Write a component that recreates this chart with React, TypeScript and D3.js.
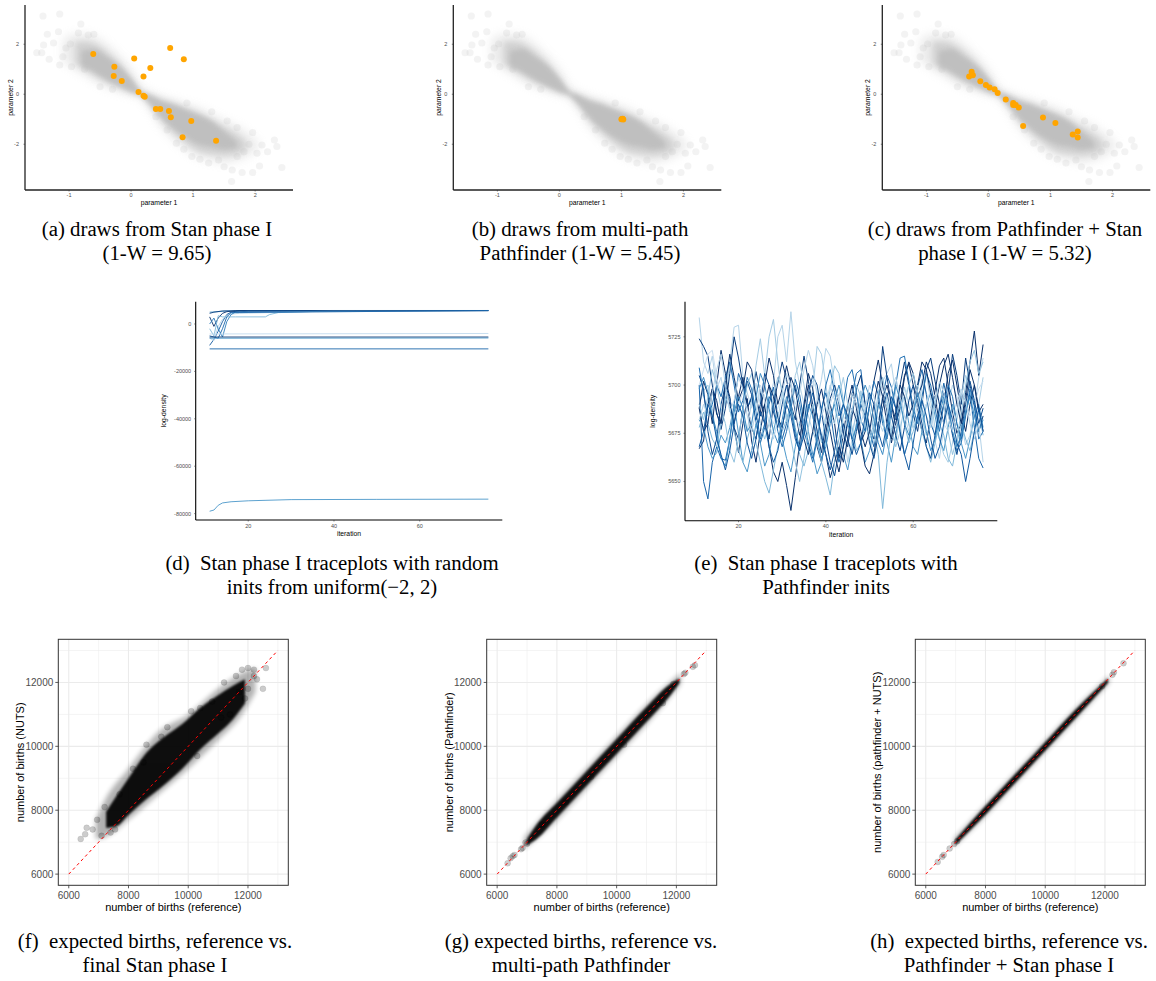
import React from "react";
import * as d3 from "d3";

// ---------------- DATA ----------------
// reference posterior cloud (panels a-c): dense core, medium band and light halo, plus sparse outliers
const cloudCoreX = [-0.8, -0.6, -0.4, -0.2, 0.0, 0.15, 0.3, 0.5, 0.7, 0.9, 1.1, 1.3, 1.5, 1.7];
const cloudCoreLo = [1.15, 0.9, 0.6, 0.35, 0.12, -0.02, -0.35, -0.95, -1.4, -1.75, -2.0, -2.1, -2.2, -2.15];
const cloudCoreHi = [1.7, 1.8, 1.5, 1.15, 0.6, 0.12, -0.05, -0.3, -0.45, -0.65, -0.85, -1.1, -1.5, -1.9];
const cloudMidX = [-0.9, -0.7, -0.5, -0.3, -0.1, 0.05, 0.15, 0.3, 0.5, 0.7, 0.9, 1.1, 1.3, 1.5, 1.7, 1.85];
const cloudMidLo = [1.2, 0.9, 0.6, 0.35, 0.15, 0.0, -0.05, -0.45, -1.1, -1.6, -2.0, -2.3, -2.4, -2.45, -2.4, -2.2];
const cloudMidHi = [2.1, 2.1, 1.9, 1.5, 1.0, 0.5, 0.15, 0.0, -0.2, -0.35, -0.55, -0.75, -1.0, -1.3, -1.6, -1.9];
const cloudHaloX = [-1.1, -0.9, -0.7, -0.5, -0.3, -0.1, 0.05, 0.15, 0.3, 0.5, 0.7, 0.9, 1.1, 1.3, 1.5, 1.7, 1.9, 2.05];
const cloudHaloLo = [1.3, 1.0, 0.7, 0.4, 0.2, 0.05, -0.05, -0.15, -0.6, -1.35, -1.85, -2.25, -2.55, -2.65, -2.75, -2.65, -2.45, -2.2];
const cloudHaloHi = [2.2, 2.4, 2.4, 2.2, 1.8, 1.3, 0.8, 0.35, 0.1, -0.1, -0.25, -0.4, -0.55, -0.8, -1.05, -1.25, -1.6, -1.9];
const cloudOutX = [-1.42, -1.15, -0.81, -1.35, -1.17, -1.41, -1.52, -1.44, -1.32, -1.15, -0.98, -0.69, -0.96, -1.25, -1.05, -0.85, -0.6, -1.1, -0.75, -0.5, -0.3,
  2.35, 2.31, 2.11, 2.43, 2.07, 1.96, 1.79, 1.62, 1.63, 1.96, 1.55, 1.71, 2.03, 1.82, 1.41, 1.11, 0.98, 0.73, 0.58, 1.71, 1.9, 1.25, 0.85, 1.5, 2.2, 0.4, 0.9, 1.3];
const cloudOutY = [3.13, 3.21, 2.81, 2.40, 2.50, 1.97, 1.66, 1.66, 1.40, 1.17, 2.01, 2.37, 1.10, 2.05, 1.85, 2.45, 2.4, 1.5, 1.0, 0.3, 0.2,
  -2.09, -1.83, -2.03, -2.93, -2.87, -3.13, -3.13, -3.49, -3.03, -1.53, -1.07, -1.33, -2.36, -2.30, -2.63, -2.60, -2.49, -1.96, -1.43, -2.49, -2.0, -2.75, -2.2, -2.9, -2.3, -0.9, -0.35, -0.7];

const drawsAX = [-0.61, -0.27, -0.28, -0.15, 0.05, 0.20, 0.31, 0.63, 0.85, 0.12, 0.20, 0.22, 0.40, 0.47, 0.61, 0.64, 0.97, 0.83, 1.37];
const drawsAY = [1.61, 1.10, 0.73, 0.53, 1.43, 0.71, 1.05, 1.85, 1.40, 0.09, -0.06, -0.10, -0.59, -0.59, -0.67, -0.92, -1.07, -1.72, -1.86];
const drawsBX = [1.0, 1.02, 1.03, 1.01];
const drawsBY = [-1.0, -0.98, -1.01, -0.99];
const drawsCX = [-0.27, -0.31, -0.25, -0.13, -0.04, 0.02, 0.10, 0.15, 0.28, 0.40, 0.40, 0.44, 0.49, 0.56, 0.88, 1.08, 1.36, 1.44, 1.44];
const drawsCY = [0.90, 0.71, 0.76, 0.52, 0.37, 0.27, 0.20, 0.05, -0.21, -0.35, -0.43, -0.43, -0.53, -1.27, -0.93, -1.15, -1.61, -1.49, -1.73];

const paramXTicks = [-1, 0, 1, 2];
const paramYTicks = [-2, 0, 2];

// traceplots with random inits (panel d): [iteration, log-density] keyframes
const traceD: [number, number][][] = [
  [[11, 5000], [13, 5200], [15, 5500], [20, 5600], [40, 5700], [76, 5700]],
  [[11, -9000], [12, -6500], [13, -3000], [14, 1000], [15, 4000], [16, 5000], [18, 5600], [76, 5650]],
  [[11, 3000], [12, -1000], [13, 2500], [14, 4500], [15, 5200], [17, 5600], [76, 5680]],
  [[11, -6000], [12, -7000], [13, -1000], [14, 2000], [15, 3500], [16, 4200], [18, 4500], [20, 4600], [30, 5000], [40, 5500], [76, 5700]],
  [[11, 0], [12, 2500], [13, -2000], [14, -5500], [15, 1000], [16, 4000], [17, 5000], [20, 5400], [76, 5650]],
  [[11, -2000], [12, -5000], [13, 3500], [14, 3000], [17, 3000], [24, 3000], [25, 4000], [27, 4800], [35, 5300], [45, 5600], [76, 5700]],
  [[11, 4500], [12, 5000], [14, 5500], [76, 5650]],
  [[11, -5000], [13, -6000], [14, -2000], [15, 3000], [16, 4800], [76, 5700]],
  [[11, -5500], [76, -5500]],
  [[11, -6000], [76, -5900]],
  [[11, -4200], [76, -4000]],
  [[11, -10500], [76, -10500]],
  [[11, -79000], [12, -78500], [13, -76500], [14, -75500], [16, -75000], [20, -74600], [30, -74100], [50, -74000], [76, -73900]],
];
const traceDShades = [0.55, 0.85, 1.0, 0.3, 0.7, 0.45, 0.95, 0.8, 1.0, 0.6, 0.25, 0.8, 0.6];
const traceDYTicks = [0, -20000, -40000, -60000, -80000];

// traceplots with Pathfinder inits (panel e): log-density at iterations 11..76
const traceStartIter = 11;
const traceE01 = [5735, 5712, 5706, 5715, 5698, 5704, 5690, 5712, 5730, 5731, 5705, 5696, 5688, 5701, 5690, 5686, 5692, 5701, 5725, 5731, 5712, 5738, 5712, 5700, 5690, 5684, 5676, 5693, 5703, 5719, 5715, 5700, 5694, 5680, 5660, 5672, 5688, 5697, 5684, 5678, 5670, 5690, 5702, 5706, 5711, 5695, 5680, 5664, 5672, 5680, 5690, 5703, 5696, 5688, 5671, 5662, 5678, 5690, 5700, 5694, 5680, 5669, 5674, 5688, 5704, 5714];
const traceE02 = [5667, 5671, 5690, 5698, 5685, 5680, 5702, 5694, 5678, 5665, 5680, 5693, 5671, 5660, 5676, 5690, 5668, 5655, 5650, 5660, 5648, 5635, 5652, 5670, 5688, 5700, 5685, 5668, 5660, 5675, 5690, 5680, 5662, 5674, 5690, 5700, 5688, 5670, 5676, 5689, 5702, 5713, 5700, 5686, 5670, 5680, 5692, 5705, 5711, 5700, 5688, 5676, 5670, 5683, 5697, 5710, 5714, 5700, 5686, 5675, 5680, 5696, 5712, 5728, 5705, 5721];
const traceE03 = [5700, 5650, 5641, 5660, 5668, 5662, 5661, 5672, 5690, 5706, 5700, 5688, 5694, 5681, 5670, 5678, 5690, 5699, 5684, 5672, 5680, 5692, 5703, 5695, 5681, 5670, 5662, 5673, 5688, 5696, 5686, 5671, 5660, 5668, 5680, 5695, 5706, 5708, 5690, 5676, 5668, 5678, 5694, 5705, 5699, 5688, 5675, 5664, 5672, 5686, 5699, 5708, 5695, 5680, 5674, 5688, 5701, 5690, 5675, 5666, 5670, 5684, 5696, 5678, 5662, 5657];
const traceE04 = [5724, 5720, 5715, 5700, 5686, 5677, 5688, 5706, 5725, 5714, 5700, 5688, 5693, 5707, 5696, 5680, 5672, 5690, 5701, 5712, 5703, 5690, 5682, 5700, 5715, 5702, 5690, 5676, 5665, 5680, 5693, 5700, 5690, 5675, 5668, 5684, 5698, 5705, 5690, 5678, 5672, 5690, 5720, 5704, 5690, 5682, 5700, 5712, 5700, 5685, 5676, 5690, 5708, 5714, 5702, 5690, 5680, 5696, 5716, 5705, 5690, 5714, 5700, 5688, 5676, 5684];
const traceE05 = [5690, 5697, 5700, 5688, 5672, 5680, 5696, 5712, 5702, 5690, 5684, 5676, 5692, 5710, 5724, 5705, 5725, 5734, 5712, 5694, 5681, 5690, 5705, 5712, 5700, 5686, 5698, 5720, 5716, 5700, 5685, 5680, 5694, 5704, 5690, 5676, 5684, 5697, 5688, 5672, 5664, 5680, 5695, 5688, 5674, 5670, 5685, 5699, 5690, 5678, 5684, 5700, 5706, 5692, 5678, 5672, 5664, 5660, 5670, 5682, 5694, 5705, 5698, 5686, 5690, 5704];
const traceE06 = [5682, 5678, 5668, 5662, 5665, 5674, 5670, 5678, 5690, 5675, 5660, 5655, 5666, 5680, 5670, 5658, 5664, 5676, 5686, 5672, 5662, 5655, 5668, 5680, 5690, 5676, 5664, 5654, 5660, 5672, 5684, 5690, 5678, 5664, 5656, 5668, 5680, 5672, 5660, 5666, 5678, 5690, 5684, 5670, 5660, 5674, 5688, 5694, 5680, 5668, 5664, 5676, 5690, 5696, 5684, 5672, 5666, 5678, 5690, 5680, 5670, 5662, 5672, 5684, 5690, 5678];
const traceE07 = [5688, 5702, 5695, 5680, 5700, 5718, 5706, 5690, 5680, 5694, 5704, 5690, 5678, 5672, 5686, 5700, 5714, 5705, 5690, 5698, 5710, 5700, 5686, 5674, 5690, 5706, 5698, 5684, 5672, 5664, 5652, 5660, 5668, 5660, 5672, 5688, 5682, 5670, 5658, 5654, 5664, 5680, 5693, 5700, 5690, 5678, 5688, 5704, 5712, 5706, 5694, 5700, 5712, 5706, 5694, 5680, 5690, 5706, 5713, 5700, 5686, 5676, 5690, 5700, 5688, 5676];
const traceE08 = [5700, 5708, 5716, 5718, 5704, 5694, 5700, 5692, 5684, 5690, 5696, 5688, 5680, 5690, 5700, 5694, 5686, 5680, 5688, 5694, 5700, 5702, 5688, 5676, 5684, 5696, 5702, 5697, 5686, 5680, 5690, 5697, 5692, 5684, 5680, 5688, 5694, 5688, 5681, 5676, 5684, 5692, 5698, 5690, 5684, 5678, 5686, 5694, 5700, 5696, 5688, 5684, 5690, 5698, 5694, 5686, 5680, 5676, 5684, 5692, 5698, 5690, 5684, 5690, 5698, 5702];
const traceE09 = [5678, 5686, 5680, 5672, 5668, 5680, 5694, 5688, 5676, 5666, 5660, 5672, 5680, 5670, 5660, 5650, 5644, 5656, 5668, 5676, 5682, 5690, 5678, 5664, 5658, 5666, 5676, 5670, 5660, 5652, 5643, 5660, 5672, 5684, 5690, 5678, 5666, 5670, 5680, 5688, 5676, 5664, 5636, 5660, 5676, 5684, 5690, 5680, 5670, 5676, 5684, 5676, 5668, 5660, 5670, 5680, 5674, 5662, 5658, 5670, 5680, 5672, 5666, 5676, 5686, 5674];
const traceE10 = [5709, 5695, 5684, 5690, 5700, 5694, 5704, 5712, 5700, 5686, 5692, 5704, 5698, 5686, 5672, 5680, 5694, 5690, 5676, 5668, 5676, 5688, 5700, 5690, 5676, 5668, 5660, 5672, 5686, 5700, 5708, 5696, 5684, 5690, 5704, 5708, 5696, 5682, 5676, 5690, 5702, 5695, 5680, 5672, 5686, 5700, 5714, 5715, 5702, 5688, 5680, 5694, 5706, 5700, 5688, 5676, 5690, 5700, 5694, 5680, 5672, 5686, 5698, 5690, 5672, 5676];
const traceE11 = [5705, 5698, 5676, 5664, 5672, 5690, 5700, 5693, 5678, 5672, 5688, 5702, 5695, 5682, 5690, 5706, 5700, 5686, 5678, 5690, 5700, 5688, 5674, 5666, 5680, 5696, 5705, 5700, 5686, 5672, 5660, 5653, 5666, 5680, 5672, 5664, 5676, 5690, 5684, 5670, 5662, 5674, 5688, 5696, 5684, 5674, 5666, 5678, 5692, 5700, 5692, 5680, 5668, 5662, 5674, 5688, 5696, 5686, 5674, 5664, 5676, 5690, 5702, 5692, 5680, 5688];
const traceE12 = [5690, 5682, 5694, 5708, 5700, 5688, 5680, 5666, 5660, 5672, 5688, 5700, 5706, 5694, 5680, 5672, 5680, 5694, 5704, 5698, 5684, 5672, 5660, 5650, 5662, 5678, 5690, 5682, 5670, 5684, 5698, 5710, 5706, 5692, 5680, 5686, 5700, 5694, 5680, 5672, 5680, 5696, 5704, 5692, 5678, 5668, 5676, 5690, 5700, 5706, 5696, 5684, 5674, 5680, 5692, 5700, 5690, 5676, 5664, 5672, 5686, 5700, 5712, 5718, 5706, 5712];
const traceE13 = [5688, 5676, 5680, 5698, 5692, 5680, 5700, 5716, 5704, 5692, 5698, 5712, 5708, 5694, 5684, 5690, 5700, 5694, 5683, 5678, 5690, 5704, 5698, 5684, 5672, 5664, 5676, 5690, 5698, 5686, 5676, 5664, 5655, 5668, 5682, 5696, 5690, 5676, 5668, 5676, 5690, 5702, 5694, 5680, 5672, 5686, 5700, 5694, 5684, 5690, 5700, 5712, 5708, 5696, 5688, 5700, 5710, 5716, 5704, 5690, 5680, 5692, 5708, 5700, 5686, 5690];
const traceE14 = [5698, 5704, 5696, 5684, 5676, 5662, 5658, 5672, 5686, 5694, 5688, 5676, 5680, 5694, 5706, 5700, 5688, 5676, 5670, 5682, 5694, 5688, 5676, 5668, 5676, 5690, 5684, 5672, 5662, 5668, 5680, 5692, 5700, 5690, 5680, 5672, 5678, 5692, 5700, 5694, 5682, 5670, 5664, 5676, 5690, 5700, 5692, 5680, 5674, 5684, 5696, 5688, 5676, 5666, 5672, 5684, 5694, 5690, 5676, 5668, 5674, 5686, 5694, 5684, 5676, 5682];
const traceE15 = [5682, 5690, 5684, 5696, 5708, 5716, 5700, 5686, 5692, 5704, 5698, 5684, 5676, 5686, 5698, 5692, 5680, 5672, 5682, 5696, 5706, 5700, 5690, 5696, 5708, 5718, 5710, 5694, 5684, 5690, 5700, 5692, 5680, 5672, 5684, 5696, 5690, 5680, 5688, 5700, 5694, 5682, 5676, 5686, 5698, 5704, 5694, 5684, 5676, 5688, 5700, 5694, 5684, 5678, 5690, 5702, 5696, 5684, 5676, 5686, 5698, 5692, 5680, 5672, 5680, 5660];
const traceE16 = [5668, 5676, 5690, 5684, 5672, 5664, 5656, 5666, 5680, 5690, 5684, 5670, 5662, 5672, 5686, 5680, 5668, 5660, 5666, 5678, 5690, 5684, 5672, 5666, 5674, 5688, 5696, 5684, 5674, 5664, 5656, 5666, 5680, 5690, 5684, 5672, 5664, 5670, 5684, 5696, 5690, 5676, 5668, 5680, 5694, 5688, 5676, 5664, 5656, 5670, 5684, 5692, 5684, 5672, 5662, 5668, 5680, 5690, 5682, 5670, 5664, 5650, 5662, 5676, 5688, 5676];
const traceESeries = [traceE01, traceE02, traceE03, traceE04, traceE05, traceE06, traceE07, traceE08, traceE09, traceE10, traceE11, traceE12, traceE13, traceE14, traceE15, traceE16];
const traceEShades = [0.3, 1.0, 0.8, 0.95, 0.35, 0.6, 1.0, 0.22, 0.45, 0.75, 0.9, 0.4, 1.0, 0.65, 0.3, 0.85];
const traceEYTicks = [5650, 5675, 5700, 5725];
const iterTicks = [20, 40, 60];

// expected births (panels f-h)
const birthTicks = [6000, 8000, 10000, 12000];
const birthMinorTicks = [7000, 9000, 11000, 13000];
const diagEnds = [6000, 13000];

const fCoreX = [7250, 7600, 8000, 8600, 9200, 9800, 10400, 11000, 11500, 11900];
const fCoreLo = [7450, 7500, 7850, 8350, 8800, 9300, 9900, 10400, 10850, 11350];
const fCoreHi = [7950, 8450, 9000, 9800, 10300, 10700, 11200, 11600, 11900, 12100];
const fHaloX = [6900, 7200, 8000, 9000, 10000, 11000, 11800, 12250];
const fHaloLo = [7100, 7150, 7700, 8500, 9300, 10200, 11000, 11700];
const fHaloHi = [7700, 8300, 9300, 10450, 11000, 11800, 12300, 12450];
const fOutX = [6400, 6550, 6600, 6800, 6950, 7100, 7200, 7400, 7550, 7700, 8150, 8500, 8600, 9100, 9300, 10100, 10400, 10800, 11100, 11400, 11600, 11800, 12000, 12200, 12000, 12300, 12600, 12500, 11900, 11700, 12200, 11200, 10300];
const fOutY = [7100, 7250, 7450, 7400, 7700, 7200, 8100, 7300, 7400, 8500, 9300, 9500, 10050, 10300, 10600, 11100, 11200, 11400, 10900, 11000, 12200, 12400, 12450, 12400, 11800, 12100, 12450, 11800, 11500, 11700, 12200, 12000, 9700];

const gCoreX = [7000, 7300, 8000, 9000, 10000, 11000, 11800, 12100];
const gCoreLo = [6900, 7080, 7770, 8770, 9770, 10770, 11600, 11980];
const gCoreHi = [7100, 7520, 8230, 9230, 10230, 11230, 11950, 12120];
const gHaloX = [6900, 8000, 9000, 10000, 11000, 12150];
const gHaloLo = [6780, 7680, 8680, 9680, 10680, 11950];
const gHaloHi = [7150, 8320, 9320, 10320, 11320, 12300];
const gOutX = [6350, 6450, 6520, 6580, 6800, 6850, 6950, 7000, 12250, 12300, 12550, 12620, 11550, 11900, 10250, 9150, 7500, 8300];
const gOutY = [6340, 6500, 6560, 6600, 6780, 6820, 6990, 6950, 12260, 12300, 12490, 12540, 11350, 11950, 10050, 9050, 7550, 8250];

const hCoreX = [7000, 8000, 9000, 10000, 11000, 12100];
const hCoreLo = [6920, 7870, 8870, 9870, 10870, 11990];
const hCoreHi = [7080, 8130, 9130, 10130, 11130, 12120];
const hHaloX = [6950, 8000, 9000, 10000, 11000, 12150];
const hHaloLo = [6860, 7820, 8820, 9820, 10820, 11990];
const hHaloHi = [7120, 8180, 9180, 10180, 11180, 12220];
const hOutX = [6400, 6550, 6600, 6800, 6950, 12250, 12300, 12620, 7050, 11900];
const hOutY = [6380, 6540, 6600, 6800, 6940, 12240, 12320, 12600, 7030, 11880];

// ---------------- STYLE ----------------
const SANS = "'Liberation Sans', Arial, Helvetica, sans-serif";
const SERIF = "'Liberation Serif', 'Times New Roman', Times, serif";
const TICK_GREY = "#4d4d4d";

function band(xs: number[], lo: number[], hi: number[], x: any, y: any) {
  return d3
    .area<number>()
    .x((_, i) => x(xs[i]))
    .y0((_, i) => y(lo[i]))
    .y1((_, i) => y(hi[i]))
    .curve(d3.curveMonotoneX)(xs) as string;
}

function ParamPanel({ left, dx, dy }: { left: number; dx: number[]; dy: number[] }) {
  const top = 5, bottom = 190, width = 268;
  const x = d3.scaleLinear().domain([-1.71, 2.61]).range([left, left + width]);
  const y = d3.scaleLinear().domain([-3.83, 3.57]).range([bottom, top]);
  return (
    <g>
      <path d={band(cloudHaloX, cloudHaloLo, cloudHaloHi, x, y)} fill="#bebebe" opacity={0.3} filter="url(#blurHalo)" />
      <path d={band(cloudMidX, cloudMidLo, cloudMidHi, x, y)} fill="#bebebe" opacity={0.6} filter="url(#blurMid)" />
      <path d={band(cloudCoreX, cloudCoreLo, cloudCoreHi, x, y)} fill="#bebebe" opacity={0.9} filter="url(#blurCore)" />
      {cloudOutX.map((v, i) => (
        <circle key={i} cx={x(v)} cy={y(cloudOutY[i])} r={3.6} fill="#bebebe" opacity={0.18} />
      ))}
      {dx.map((v, i) => (
        <circle key={"d" + i} cx={x(v)} cy={y(dy[i])} r={3} fill="#FFA500" />
      ))}
      <line x1={left} x2={left} y1={top} y2={bottom} stroke="#222" strokeWidth={1.3} />
      <line x1={left} x2={left + width} y1={bottom} y2={bottom} stroke="#222" strokeWidth={1.3} />
      {paramXTicks.map((t) => (
        <g key={t}>
          <line x1={x(t)} x2={x(t)} y1={bottom} y2={bottom + 1.5} stroke="#333" strokeWidth={0.6} />
          <text x={x(t)} y={bottom + 7} fontSize={5.5} fontFamily={SANS} fill={TICK_GREY} textAnchor="middle">
            {t}
          </text>
        </g>
      ))}
      {paramYTicks.map((t) => (
        <g key={t}>
          <line x1={left - 1.5} x2={left} y1={y(t)} y2={y(t)} stroke="#333" strokeWidth={0.6} />
          <text x={left - 6} y={y(t)} dy="0.35em" fontSize={5.5} fontFamily={SANS} fill={TICK_GREY} textAnchor="end">
            {t}
          </text>
        </g>
      ))}
      <text x={left + width / 2} y={bottom + 15} fontSize={6.8} fontFamily={SANS} fill="#000" textAnchor="middle">
        parameter 1
      </text>
      <text transform={`translate(${left - 12},${(top + bottom) / 2}) rotate(-90)`} fontSize={6.8} fontFamily={SANS} fill="#000" textAnchor="middle">
        parameter 2
      </text>
    </g>
  );
}

function TraceAxes({ left, right, top, bottom, x, y, yTicks }: any) {
  return (
    <g>
      <line x1={left} x2={left} y1={top} y2={bottom} stroke="#000" strokeWidth={1.1} />
      <line x1={left} x2={right} y1={bottom} y2={bottom} stroke="#000" strokeWidth={1.1} />
      {iterTicks.map((t) => (
        <g key={t}>
          <line x1={x(t)} x2={x(t)} y1={bottom} y2={bottom + 1.5} stroke="#333" strokeWidth={0.6} />
          <text x={x(t)} y={bottom + 7.5} fontSize={5.5} fontFamily={SANS} fill={TICK_GREY} textAnchor="middle">
            {t}
          </text>
        </g>
      ))}
      {yTicks.map((t: number) => (
        <g key={t}>
          <line x1={left - 1.5} x2={left} y1={y(t)} y2={y(t)} stroke="#333" strokeWidth={0.6} />
          <text x={left - 4.5} y={y(t)} dy="0.35em" fontSize={5.5} fontFamily={SANS} fill={TICK_GREY} textAnchor="end">
            {t}
          </text>
        </g>
      ))}
      <text x={(left + right) / 2} y={bottom + 16} fontSize={6.8} fontFamily={SANS} fill="#000" textAnchor="middle">
        iteration
      </text>
      <text transform={`translate(${left - 30},${(top + bottom) / 2}) rotate(-90)`} fontSize={6.8} fontFamily={SANS} fill="#000" textAnchor="middle">
        log-density
      </text>
    </g>
  );
}

function TracePanelD() {
  const left = 195.7, right = 502.3, top = 301.7, bottom = 520;
  const x = d3.scaleLinear().domain([7.75, 79.25]).range([left, right]);
  const y = d3.scaleLinear().domain([-82700, 9409]).range([bottom, top]);
  const line = d3.line<[number, number]>().x((d) => x(d[0])).y((d) => y(d[1]));
  return (
    <g>
      {traceD.map((s, i) => (
        <path key={i} d={line(s) as string} fill="none" stroke={d3.interpolateBlues(traceDShades[i])} strokeWidth={0.9} />
      ))}
      <TraceAxes left={left} right={right} top={top} bottom={bottom} x={x} y={y} yTicks={traceDYTicks} />
    </g>
  );
}

function TracePanelE() {
  const left = 685, right = 997.3, top = 301.7, bottom = 520.7;
  const x = d3.scaleLinear().domain([7.75, 79.25]).range([left, right]);
  const y = d3.scaleLinear().domain([5629.7, 5743.2]).range([bottom, top]);
  const line = d3.line<number>().x((_, i) => x(traceStartIter + i)).y((d) => y(d));
  return (
    <g>
      {traceESeries.map((s, i) => (
        <path key={i} d={line(s) as string} fill="none" stroke={d3.interpolateBlues(traceEShades[i])} strokeWidth={1} />
      ))}
      <TraceAxes left={left} right={right} top={top} bottom={bottom} x={x} y={y} yTicks={traceEYTicks} />
    </g>
  );
}

function BirthPanel(props: {
  left: number; yTitle: string; id: string;
  cx: number[]; clo: number[]; chi: number[];
  hx: number[]; hlo: number[]; hhi: number[];
  ox: number[]; oy: number[]; coreOpacity: number;
}) {
  const { left, yTitle, id } = props;
  const right = left + 230, top = 639.3, bottom = 885.3;
  const x = d3.scaleLinear().domain([5650, 13350]).range([left, right]);
  const y = d3.scaleLinear().domain([5650, 13350]).range([bottom, top]);
  return (
    <g>
      <defs>
        <clipPath id={id}>
          <rect x={left} y={top} width={right - left} height={bottom - top} />
        </clipPath>
      </defs>
      <rect x={left} y={top} width={right - left} height={bottom - top} fill="#fff" />
      {birthMinorTicks.map((t) => (
        <g key={"m" + t}>
          <line x1={x(t)} x2={x(t)} y1={top} y2={bottom} stroke="#ebebeb" strokeWidth={0.55} />
          <line x1={left} x2={right} y1={y(t)} y2={y(t)} stroke="#ebebeb" strokeWidth={0.55} />
        </g>
      ))}
      {birthTicks.map((t) => (
        <g key={"M" + t}>
          <line x1={x(t)} x2={x(t)} y1={top} y2={bottom} stroke="#ebebeb" strokeWidth={1.1} />
          <line x1={left} x2={right} y1={y(t)} y2={y(t)} stroke="#ebebeb" strokeWidth={1.1} />
        </g>
      ))}
      <g clipPath={`url(#${id})`}>
        <path d={band(props.hx, props.hlo, props.hhi, x, y)} fill="#000" opacity={0.3} filter="url(#blurSmall)" />
        <path d={band(props.cx, props.clo, props.chi, x, y)} fill="#000" opacity={props.coreOpacity} filter="url(#blurTiny)" />
        {props.ox.map((v, i) => (
          <circle key={i} cx={x(v)} cy={y(props.oy[i])} r={3} fill="#000" fillOpacity={0.2} stroke="#000" strokeOpacity={0.15} strokeWidth={0.5} />
        ))}
        <line x1={x(diagEnds[0])} y1={y(diagEnds[0])} x2={x(diagEnds[1])} y2={y(diagEnds[1])} stroke="red" strokeWidth={1} strokeDasharray="3,3" />
      </g>
      <rect x={left} y={top} width={right - left} height={bottom - top} fill="none" stroke="#333" strokeWidth={1} />
      {birthTicks.map((t) => (
        <g key={"t" + t}>
          <line x1={x(t)} x2={x(t)} y1={bottom} y2={bottom + 3} stroke="#333" strokeWidth={0.8} />
          <text x={x(t)} y={bottom + 13.5} fontSize={10} fontFamily={SANS} fill={TICK_GREY} textAnchor="middle">
            {t}
          </text>
          <line x1={left - 3} x2={left} y1={y(t)} y2={y(t)} stroke="#333" strokeWidth={0.8} />
          <text x={left - 5} y={y(t)} dy="0.35em" fontSize={10} fontFamily={SANS} fill={TICK_GREY} textAnchor="end">
            {t}
          </text>
        </g>
      ))}
      <text x={(left + right) / 2} y={bottom + 25.5} fontSize={11} fontFamily={SANS} fill="#000" textAnchor="middle">
        number of births (reference)
      </text>
      <text transform={`translate(${left - 34},${(top + bottom) / 2}) rotate(-90)`} fontSize={11} fontFamily={SANS} fill="#000" textAnchor="middle">
        {yTitle}
      </text>
    </g>
  );
}

function Caption({ cx, y, lines }: { cx: number; y: number; lines: string[] }) {
  return (
    <g>
      {lines.map((l, i) => (
        <text key={i} x={cx} y={y + i * 24} fontSize={20.8} fontFamily={SERIF} fill="#000" textAnchor="middle" style={{ whiteSpace: "pre" }}>
          {l}
        </text>
      ))}
    </g>
  );
}

export default function App() {
  return (
    <svg width={1156} height={981} viewBox="0 0 1156 981" style={{ position: "absolute", left: 0, top: 0, background: "#fff" }}>
      <defs>
        <filter id="blurHalo" x="-20%" y="-20%" width="140%" height="140%">
          <feGaussianBlur stdDeviation={5} />
        </filter>
        <filter id="blurMid" x="-20%" y="-20%" width="140%" height="140%">
          <feGaussianBlur stdDeviation={3} />
        </filter>
        <filter id="blurCore" x="-20%" y="-20%" width="140%" height="140%">
          <feGaussianBlur stdDeviation={2} />
        </filter>
        <filter id="blurSmall" x="-20%" y="-20%" width="140%" height="140%">
          <feGaussianBlur stdDeviation={2.5} />
        </filter>
        <filter id="blurTiny" x="-20%" y="-20%" width="140%" height="140%">
          <feGaussianBlur stdDeviation={1} />
        </filter>
      </defs>
      <rect x={0} y={0} width={1156} height={981} fill="#fff" />

      <ParamPanel left={25} dx={drawsAX} dy={drawsAY} />
      <ParamPanel left={453.3} dx={drawsBX} dy={drawsBY} />
      <ParamPanel left={882.3} dx={drawsCX} dy={drawsCY} />

      <Caption cx={157} y={236} lines={["(a) draws from Stan phase I", "(1-W = 9.65)"]} />
      <Caption cx={580} y={236} lines={["(b) draws from multi-path", "Pathfinder (1-W = 5.45)"]} />
      <Caption cx={1005} y={236} lines={["(c) draws from Pathfinder + Stan", "phase I (1-W = 5.32)"]} />

      <TracePanelD />
      <TracePanelE />

      <Caption cx={332} y={570} lines={["(d)  Stan phase I traceplots with random", "inits from uniform(\u22122, 2)"]} />
      <Caption cx={826} y={570} lines={["(e)  Stan phase I traceplots with", "Pathfinder inits"]} />

      <BirthPanel id="clipF" left={58.3} yTitle="number of births (NUTS)" cx={fCoreX} clo={fCoreLo} chi={fCoreHi} hx={fHaloX} hlo={fHaloLo} hhi={fHaloHi} ox={fOutX} oy={fOutY} coreOpacity={0.92} />
      <BirthPanel id="clipG" left={486.7} yTitle="number of births (Pathfinder)" cx={gCoreX} clo={gCoreLo} chi={gCoreHi} hx={gHaloX} hlo={gHaloLo} hhi={gHaloHi} ox={gOutX} oy={gOutY} coreOpacity={0.92} />
      <BirthPanel id="clipH" left={915.3} yTitle="number of births (pathfinder + NUTS)" cx={hCoreX} clo={hCoreLo} chi={hCoreHi} hx={hHaloX} hlo={hHaloLo} hhi={hHaloHi} ox={hOutX} oy={hOutY} coreOpacity={0.95} />

      <Caption cx={155} y={948} lines={["(f)  expected births, reference vs.", "final Stan phase I"]} />
      <Caption cx={581} y={948} lines={["(g) expected births, reference vs.", "multi-path Pathfinder"]} />
      <Caption cx={1009} y={948} lines={["(h)  expected births, reference vs.", "Pathfinder + Stan phase I"]} />
    </svg>
  );
}
